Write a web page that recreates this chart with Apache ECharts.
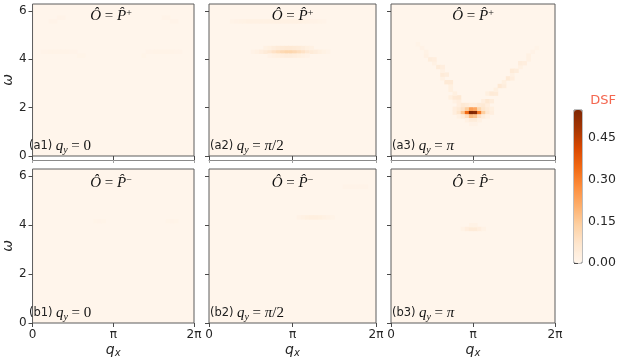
<!DOCTYPE html>
<html><head><meta charset="utf-8">
<script src="https://cdn.jsdelivr.net/npm/echarts@6/dist/echarts.min.js"></script>
<style>html,body{margin:0;padding:0;background:#fff}#c{width:619px;height:359px}</style>
</head><body><div id="c"></div>
<script>
// ---------------- data ----------------
const NX = 40, NY = 40;                 // bins across q_x (0..2π) and ω (0..2π)
const qxTickValues = [0, 1, 2];          // q_x in units of π
const qxTickLabels = ['0', 'π', '2π'];
const omegaTicks = [0, 2, 4, 6];
const omegaMax = 6.2832;
const dsfTicks = [0, 0.15, 0.30, 0.45];
const dsfMax = 0.55;
const panelTags = ['a1', 'a2', 'a3', 'b1', 'b2', 'b3'];
const panelSigns = ['+', '+', '+', '−', '−', '−'];
const qyLabels = ['0', 'π/2', 'π', '0', 'π/2', 'π'];

// cells: [ix, iy, DSF]  (zero elsewhere)
const cellsA1 = [
  [2,27,0.008],[3,27,0.008],[4,27,0.01],[5,27,0.01],[6,27,0.01],[7,27,0.01],[8,27,0.01],[9,27,0.008],[10,27,0.008],[11,26,0.006],[12,26,0.006],
  [27,26,0.006],[28,27,0.008],[29,27,0.008],[30,27,0.01],[31,27,0.01],[32,27,0.01],[33,27,0.01],[34,27,0.01],[35,27,0.008],[36,27,0.008],
  [4,35,0.008],[5,35,0.008],[6,36,0.008],[7,36,0.008],[32,36,0.008],[33,36,0.008],[34,35,0.008],[35,35,0.008]
];
const cellsA2 = [
  [10,27,0.012],[11,27,0.02],[12,27,0.03],[13,27,0.045],[14,27,0.06],[15,27,0.08],[16,27,0.095],[17,27,0.11],[18,27,0.12],[19,27,0.12],
  [20,27,0.11],[21,27,0.095],[22,27,0.08],[23,27,0.06],[24,27,0.045],[25,27,0.035],[26,27,0.025],[27,27,0.016],[28,27,0.01],
  [13,28,0.018],[14,28,0.025],[15,28,0.035],[16,28,0.045],[17,28,0.05],[18,28,0.055],[19,28,0.055],[20,28,0.05],[21,28,0.045],[22,28,0.035],[23,28,0.025],[24,28,0.018],
  [14,26,0.012],[15,26,0.018],[16,26,0.025],[17,26,0.03],[18,26,0.035],[19,26,0.035],[20,26,0.03],[21,26,0.025],[22,26,0.018],[23,26,0.012],
  [5,35,0.01],[6,35,0.012],[7,35,0.014],[8,35,0.016],[9,35,0.018],[10,35,0.02],[11,35,0.02],[12,35,0.02],[13,35,0.02],[14,35,0.02],
  [15,35,0.02],[16,35,0.02],[17,35,0.02],[18,35,0.02],[19,35,0.02],[20,35,0.02],[21,35,0.018],[22,35,0.016],[23,35,0.015],[24,35,0.013],
  [25,35,0.012],[26,35,0.01],[27,35,0.008]
];
const cellsA3 = [
  [15,11,0.03],[16,11,0.07],[17,11,0.16],[18,11,0.34],[19,11,0.55],[20,11,0.53],[21,11,0.31],[22,11,0.14],[23,11,0.06],[24,11,0.03],
  [15,12,0.03],[16,12,0.05],[17,12,0.08],[18,12,0.14],[19,12,0.24],[20,12,0.22],[21,12,0.12],[22,12,0.07],[23,12,0.045],[24,12,0.025],
  [16,10,0.02],[17,10,0.04],[18,10,0.09],[19,10,0.18],[20,10,0.16],[21,10,0.08],[22,10,0.035],[23,10,0.015],
  [18,9,0.02],[19,9,0.04],[20,9,0.04],[21,9,0.02],[19,8,0.012],[20,8,0.012],
  [16,13,0.03],[17,13,0.055],[18,13,0.045],[19,13,0.03],[20,13,0.03],[21,13,0.045],[22,13,0.055],[23,13,0.03],
  [15,14,0.02],[16,14,0.03],[22,14,0.03],[23,14,0.06],[24,14,0.035],
  [14,15,0.025],[15,15,0.05],[16,15,0.055],[15,16,0.025],[23,16,0.025],[24,16,0.05],[25,16,0.045],[25,17,0.025],
  [14,17,0.025],[14,18,0.025],[26,18,0.055],[27,18,0.035],[27,19,0.025],
  [13,19,0.05],[14,19,0.05],[12,20,0.02],[28,20,0.05],[29,20,0.03],[29,21,0.02],
  [12,21,0.045],[13,21,0.035],[12,22,0.02],[29,22,0.045],[30,22,0.035],[31,23,0.02],
  [11,23,0.04],[12,23,0.03],[10,24,0.02],[31,24,0.035],[32,24,0.03],
  [9,25,0.035],[10,25,0.03],[33,25,0.02],[33,26,0.02],[8,26,0.018],[8,27,0.015],[7,28,0.012],[6,29,0.01],[34,27,0.012],[35,28,0.01]
];
const cellsB1 = [
  [15,26,0.006],[16,26,0.008],[17,26,0.006],[33,26,0.006],[34,26,0.008],[35,26,0.006]
];
const cellsB2 = [
  [21,27,0.012],[22,27,0.02],[23,27,0.025],[24,27,0.028],[25,27,0.028],[26,27,0.025],[27,27,0.02],[28,27,0.015],[29,27,0.01],
  [32,35,0.008],[33,35,0.008],[34,35,0.008],[35,35,0.008],[36,35,0.008],[37,35,0.008]
];
const cellsB3 = [
  [17,24,0.015],[18,24,0.03],[19,24,0.045],[20,24,0.045],[21,24,0.03],[22,24,0.015],[19,25,0.015],[20,25,0.015]
];
const panelCells = [cellsA1, cellsA2, cellsA3, cellsB1, cellsB2, cellsB3];
const orangesScale = ['#fff5eb','#fee6ce','#fdd0a2','#fdae6b','#fd8d3c','#f16913','#d94801','#a63603','#7f2704'];

// ---------------- layout ----------------
const lefts = [28, 209, 391], widths = [166, 167, 164];
const tops = [4, 169], heights = [152, 154];
const DX = 2 / NX, DW = omegaMax / NY;

function renderCell(params, api) {
  const x = api.value(0), y = api.value(1);
  const a = api.coord([x - DX / 2, y + DW / 2]);
  const b = api.coord([x + DX / 2, y - DW / 2]);
  return { type: 'rect', shape: { x: a[0], y: a[1], width: b[0] - a[0] + 0.6, height: b[1] - a[1] + 0.6 },
           style: { fill: api.visual('color') } };
}

const grid = [], xAxis = [], yAxis = [], series = [], graphic = [];
const tickColor = '#4a4a4a', labelColor = '#262626';
for (let i = 0; i < 6; i++) {
  const r = Math.floor(i / 3), c = i % 3;
  grid.push({ left: lefts[c], top: tops[r], width: widths[c], height: heights[r], show: true,
    backgroundColor: orangesScale[0], borderColor: '#5c5c5c', borderWidth: 1 });
  xAxis.push({ gridIndex: i, type: 'value', min: 0, max: 2, interval: 1,
    axisLine: { show: false }, splitLine: { show: false },
    axisTick: { show: true, length: 4, lineStyle: { color: tickColor } },
    axisLabel: { show: r === 1, margin: 6, color: labelColor, fontSize: 12, fontFamily: 'DejaVu Sans',
      formatter: v => qxTickLabels[qxTickValues.indexOf(Math.round(v))] },
    name: r === 1 ? '{q|q}{s|x}' : '', nameLocation: 'middle', nameGap: 19,
    nameTextStyle: { rich: { q: { fontFamily: 'DejaVu Sans', fontStyle: 'italic', fontSize: 14, color: labelColor },
                             s: { fontFamily: 'DejaVu Sans', fontStyle: 'italic', fontSize: 10, color: labelColor, verticalAlign: 'bottom', padding: [6,0,0,0] } } } });
  yAxis.push({ gridIndex: i, type: 'value', min: 0, max: omegaMax,
    axisLine: { show: false }, splitLine: { show: false },
    axisTick: { show: true, length: 4, customValues: omegaTicks, lineStyle: { color: tickColor } },
    axisLabel: { show: c === 0, customValues: omegaTicks, margin: 6, color: labelColor, fontSize: 12, fontFamily: 'DejaVu Sans' },
    name: c === 0 ? 'ω' : '', nameLocation: 'middle', nameGap: 15, nameRotate: 90,
    nameTextStyle: { fontFamily: 'DejaVu Sans', fontStyle: 'italic', fontSize: 14, color: labelColor } });
  series.push({ type: 'custom', xAxisIndex: i, yAxisIndex: i, clip: true, renderItem: renderCell,
    encode: { x: 0, y: 1 },
    data: panelCells[i].map(([ix, iy, v]) => [(ix + 0.5) * DX, (iy + 0.5) * DW, v]) });
  // panel title
  graphic.push({ type: 'text', x: lefts[c] + widths[c] / 2, y: tops[r] + (r === 0 ? 12 : 14), z: 100,
    style: { text: '{o|Ô}{e| = }{o|P̂}{s|' + panelSigns[i] + '}', align: 'center', verticalAlign: 'middle',
      rich: { o: { fontFamily: 'Liberation Serif', fontStyle: 'italic', fontSize: 15, fill: '#111' },
              e: { fontFamily: 'Liberation Serif', fontSize: 15, fill: '#111' },
              s: { fontFamily: 'Liberation Serif', fontSize: 10, fill: '#111', verticalAlign: 'top', padding: [0,0,6,0] } } } });
  // panel tag
  const q = qyLabels[i];
  const qText = q === 'π/2' ? '{m|π}{n|/2}' : (q === 'π' ? '{m|π}' : '{n|0}');
  graphic.push({ type: 'text', x: lefts[c] + 1, y: tops[r] + heights[r] - 10, z: 100,
    style: { text: '{t|(' + panelTags[i] + ')} {m|q}{sub|y}{n| = }' + qText, align: 'left', verticalAlign: 'middle',
      rich: { t: { fontFamily: 'DejaVu Sans', fontSize: 11.5, fill: '#222' },
              m: { fontFamily: 'Liberation Serif', fontStyle: 'italic', fontSize: 15, fill: '#111' },
              n: { fontFamily: 'Liberation Serif', fontSize: 15, fill: '#111' },
              sub: { fontFamily: 'Liberation Serif', fontStyle: 'italic', fontSize: 10, fill: '#111', verticalAlign: 'bottom', padding: [8,0,0,0] } } } });
}
// offset duplicate bottom spines under the top row
for (let c = 0; c < 3; c++) {
  xAxis.push({ gridIndex: c, type: 'value', min: 0, max: 2, interval: 1, position: 'bottom', offset: 4,
    axisLine: { show: true, lineStyle: { color: '#8a8a8a', width: 1 } }, splitLine: { show: false },
    axisTick: { show: true, length: 3, lineStyle: { color: '#a0a0a0' } }, axisLabel: { show: false } });
}
// colorbar axis
grid.push({ left: 574, top: 110, width: 8, height: 153, show: true, borderColor: '#7a7a7a', borderWidth: 1, backgroundColor: 'transparent' });
xAxis.push({ gridIndex: 6, type: 'value', show: false, min: 0, max: 1 });
yAxis.push({ gridIndex: 6, type: 'value', position: 'right', min: 0, max: dsfMax,
  axisLine: { show: false }, splitLine: { show: false },
  axisTick: { show: true, length: 4, customValues: dsfTicks, lineStyle: { color: tickColor } },
  axisLabel: { customValues: dsfTicks, margin: 6, color: labelColor, fontSize: 12.5, fontFamily: 'DejaVu Sans', formatter: v => v.toFixed(2) } });
graphic.push({ type: 'text', x: 603, y: 101, z: 100,
  style: { text: 'DSF', align: 'center', verticalAlign: 'middle', fontFamily: 'DejaVu Sans', fontSize: 13, fill: '#f4664f' } });

const chart = echarts.init(document.getElementById('c'), null, { renderer: 'canvas' });
chart.setOption({
  animation: false,
  backgroundColor: '#ffffff',
  grid, xAxis, yAxis, series, graphic,
  visualMap: { type: 'continuous', min: 0, max: dsfMax, dimension: 2, seriesIndex: [0,1,2,3,4,5],
    orient: 'vertical', left: 574, top: 110, itemWidth: 8, itemHeight: 153, padding: 0,
    calculable: false, showLabel: false, hoverLink: false, inRange: { color: orangesScale } }
});
</script></body></html>
